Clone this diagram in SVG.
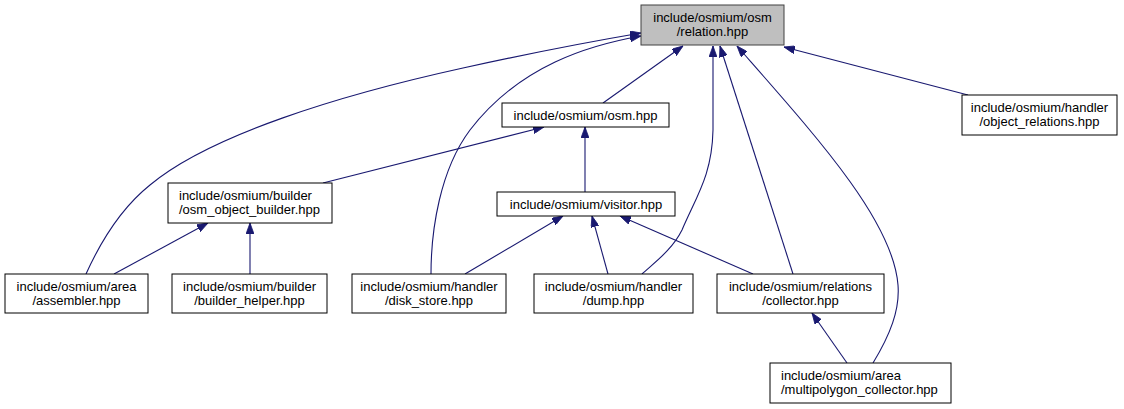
<svg xmlns="http://www.w3.org/2000/svg" width="1124" height="409" viewBox="0 0 1124 409">
<style>
.n rect{fill:#ffffff;stroke:#000000;stroke-width:1}
.n.root rect{fill:#bfbfbf;stroke:#404040}
.n text{font-family:"Liberation Sans",Arial,Helvetica,sans-serif;font-size:13px;fill:#000000;text-anchor:middle}
.n text.l{text-anchor:start}
#edges path{fill:none;stroke:#191970;stroke-width:1.1;marker-end:url(#ah)}
</style>
<defs>
<marker id="ah" viewBox="0 0 11 8" refX="11" refY="4" markerWidth="11" markerHeight="8" markerUnits="userSpaceOnUse" orient="auto">
<path d="M0,0 L11,4 L0,8 z" fill="#191970" stroke="#191970" stroke-width="0.8"/>
</marker>
</defs>
<rect width="1124" height="409" fill="#ffffff"/>
<g id="edges">
<path d="M86,274 C105,232 125,205 150,185 C210,135 340,95 463,68 C540,51 600,40 641,33"/>
<path d="M431,274 C431,230 440,170 470,130 C520,65 590,45 641,36"/>
<path d="M603,103 L683,46"/>
<path d="M642,274 C655,262 672,250 682,230 C697,195 712,175 713,130 L713,46"/>
<path d="M793,274 L720,46"/>
<path d="M873,363 C890,335 900,310 898,285 C893,220 815,135 737,46"/>
<path d="M968,95 L784,47"/>
<path d="M323,183 L544,127"/>
<path d="M585,192 L585,127"/>
<path d="M114,274 L208,223"/>
<path d="M250,274 L250,223"/>
<path d="M465,274 L563,216"/>
<path d="M608,274 L592,216"/>
<path d="M753,274 L620,216"/>
<path d="M847,363 L812,313"/>
</g>
<g id="node_relation" class="n root">
<rect x="641" y="5" width="143" height="40"/>
<text x="712.5" y="22">include/osmium/osm</text>
<text x="712.5" y="36">/relation.hpp</text>
</g>
<g id="node_object_relations" class="n">
<rect x="962" y="95" width="155" height="40"/>
<text x="1039.5" y="112">include/osmium/handler</text>
<text x="1039.5" y="126">/object_relations.hpp</text>
</g>
<g id="node_osm" class="n">
<rect x="502" y="103" width="167" height="24"/>
<text x="585.5" y="119.5">include/osmium/osm.hpp</text>
</g>
<g id="node_osm_object_builder" class="n">
<rect x="168" y="183" width="164" height="40"/>
<text class="l" x="179" y="200">include/osmium/builder</text>
<text class="l" x="179" y="214">/osm_object_builder.hpp</text>
</g>
<g id="node_visitor" class="n">
<rect x="497" y="192" width="178" height="24"/>
<text x="586" y="208.5">include/osmium/visitor.hpp</text>
</g>
<g id="node_assembler" class="n">
<rect x="5" y="274" width="143" height="39"/>
<text x="76.5" y="290.5">include/osmium/area</text>
<text x="76.5" y="304.5">/assembler.hpp</text>
</g>
<g id="node_builder_helper" class="n">
<rect x="172" y="274" width="155" height="39"/>
<text x="249.5" y="290.5">include/osmium/builder</text>
<text x="249.5" y="304.5">/builder_helper.hpp</text>
</g>
<g id="node_disk_store" class="n">
<rect x="352" y="274" width="154" height="39"/>
<text x="429" y="290.5">include/osmium/handler</text>
<text x="429" y="304.5">/disk_store.hpp</text>
</g>
<g id="node_dump" class="n">
<rect x="534" y="274" width="159" height="39"/>
<text x="613.5" y="290.5">include/osmium/handler</text>
<text x="613.5" y="304.5">/dump.hpp</text>
</g>
<g id="node_collector" class="n">
<rect x="717" y="274" width="167" height="39"/>
<text x="800.5" y="290.5">include/osmium/relations</text>
<text x="800.5" y="304.5">/collector.hpp</text>
</g>
<g id="node_multipolygon_collector" class="n">
<rect x="770" y="363" width="181" height="40"/>
<text class="l" x="781" y="379.5">include/osmium/area</text>
<text class="l" x="781" y="393.5">/multipolygon_collector.hpp</text>
</g>
</svg>
